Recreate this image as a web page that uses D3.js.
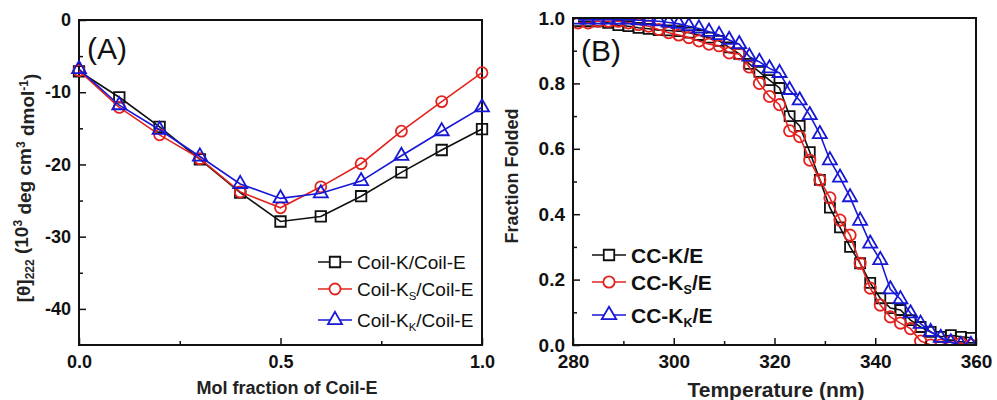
<!DOCTYPE html>
<html>
<head>
<meta charset="utf-8">
<script src="https://cdn.jsdelivr.net/npm/d3@7"></script>
<style>
  body { margin: 0; background: #fff; }
  svg { font-family: "Liberation Sans", Arial, sans-serif; }
  .tick text { font-weight: bold; font-size: 18px; fill: #111; }
</style>
</head>
<body>
<svg id="chart" width="997" height="400"></svg>
<script>
// panel A: CD signal vs mol fraction
const molFraction = [0, 0.1, 0.2, 0.3, 0.4, 0.5, 0.6, 0.7, 0.8, 0.9, 1.0];
const coilK = [-7.1, -10.7, -14.8, -19.3, -23.9, -27.9, -27.2, -24.4, -21.1, -18.0, -15.1];
const coilKs = [-7.0, -12.1, -15.9, -19.2, -23.8, -26.0, -23.1, -19.9, -15.4, -11.3, -7.3];
const coilKk = [-6.8, -11.8, -15.2, -18.9, -22.7, -24.7, -24.0, -22.3, -18.8, -15.4, -12.1];

// panel B: thermal unfolding
const temperature = [281, 283, 285, 287, 289, 291, 293, 295, 297, 299, 301, 303, 305, 307, 309, 311, 313, 315, 317, 319,
  321, 323, 325, 327, 329, 331, 333, 335, 337, 339, 341, 343, 345, 347, 349, 351, 353, 355, 357, 359];
const ccK = [0.99, 0.99, 0.99, 0.985, 0.978, 0.975, 0.97, 0.967, 0.963, 0.962, 0.96, 0.955, 0.948, 0.94, 0.93, 0.91, 0.89, 0.86, 0.835, 0.81,
  0.786, 0.70, 0.67, 0.59, 0.505, 0.42, 0.36, 0.30, 0.25, 0.19, 0.143, 0.113, 0.107, 0.076, 0.055, 0.04, 0.025, 0.03, 0.025, 0.022];
const ccKs = [0.985, 0.985, 0.99, 0.99, 0.99, 0.985, 0.98, 0.975, 0.965, 0.955, 0.948, 0.94, 0.93, 0.92, 0.915, 0.893, 0.89, 0.85, 0.80, 0.76,
  0.735, 0.655, 0.637, 0.565, 0.505, 0.45, 0.382, 0.336, 0.25, 0.174, 0.122, 0.086, 0.067, 0.05, 0.012, 0.0, 0.0, 0.01, 0.005, 0.0];
const ccKk = [0.995, 0.995, 0.995, 0.995, 0.995, 0.995, 0.993, 0.992, 0.99, 0.986, 0.982, 0.975, 0.968, 0.958, 0.948, 0.933, 0.92, 0.882, 0.866, 0.846,
  0.832, 0.78, 0.748, 0.703, 0.645, 0.565, 0.512, 0.452, 0.38, 0.31, 0.26, 0.17, 0.14, 0.097, 0.065, 0.04, 0.022, 0.008, 0.0, 0.0];

const xTicksA = [0, 0.5, 1.0];
const yTicksA = [0, -10, -20, -30, -40];
const xTicksB = [280, 300, 320, 340, 360];
const yTicksB = [0, 0.2, 0.4, 0.6, 0.8, 1.0];

const black = "#111111", red = "#e3231f", blue = "#1717d6";

const svg = d3.select("#chart");

function draw_frame(g, x, y, xTicks, yTicks, xMinor, yMinor, xFmt, yFmt) {
  const [x0, x1] = x.range();
  const [y0, y1] = y.range();

  g.append("g")
    .attr("transform", `translate(0,${y0})`)
    .call(d3.axisTop(x).tickValues(xMinor).tickSize(4).tickFormat(""))
    .call((g) => g.select(".domain").remove());
  const xa = g.append("g")
    .attr("transform", `translate(0,${y0})`)
    .call(d3.axisTop(x).tickValues(xTicks).tickSize(7).tickFormat(xFmt))
    .call((g) => g.select(".domain").remove());
  xa.selectAll(".tick text").attr("y", 10).attr("dy", "0.71em");

  g.append("g")
    .attr("transform", `translate(${x0},0)`)
    .call(d3.axisRight(y).tickValues(yMinor).tickSize(4).tickFormat(""))
    .call((g) => g.select(".domain").remove());
  const ya = g.append("g")
    .attr("transform", `translate(${x0},0)`)
    .call(d3.axisRight(y).tickValues(yTicks).tickSize(7).tickFormat(yFmt))
    .call((g) => g.select(".domain").remove());
  ya.selectAll(".tick text").attr("x", -8).attr("text-anchor", "end");

  g.selectAll(".tick line").attr("stroke", "#111").attr("stroke-width", 1.5);

  g.append("rect")
    .attr("x", x0).attr("y", y1)
    .attr("width", x1 - x0).attr("height", y0 - y1)
    .attr("fill", "none").attr("stroke", "#111").attr("stroke-width", 2);
}

function draw_series(g, x, y, xs, ys, color, symbol, size) {
  const pts = xs.map((d, i) => [d, ys[i]]);
  g.append("path")
    .datum(pts)
    .attr("fill", "none")
    .attr("stroke", color)
    .attr("stroke-width", 1.6)
    .attr("d", d3.line().x((d) => x(d[0])).y((d) => y(d[1])));
  g.selectAll(null)
    .data(pts)
    .enter()
    .append("path")
    .attr("transform", (d) => `translate(${x(d[0])},${y(d[1])})`)
    .attr("d", d3.symbol().type(symbol).size(size))
    .attr("fill", "none")
    .attr("stroke", color)
    .attr("stroke-width", 1.8);
}

function draw_legend(g, x0, rows, fontSize, bold) {
  rows.forEach((r) => {
    g.append("line")
      .attr("x1", x0).attr("x2", x0 + 34)
      .attr("y1", r.y).attr("y2", r.y)
      .attr("stroke", r.color).attr("stroke-width", 1.6);
    g.append("path")
      .attr("transform", `translate(${x0 + 17},${r.y})`)
      .attr("d", d3.symbol().type(r.symbol).size(r.size))
      .attr("fill", "#fff").attr("stroke", r.color).attr("stroke-width", 1.8);
    const t = g.append("text")
      .attr("x", x0 + 39).attr("y", r.y).attr("dy", "0.36em")
      .style("font-size", fontSize + "px")
      .style("font-weight", bold ? "bold" : "normal")
      .attr("fill", "#111");
    r.parts.forEach((p) => {
      const s = t.append("tspan").text(p.text);
      if (p.sub) {
        s.attr("dy", "0.35em").style("font-size", fontSize * 0.6 + "px");
      } else if (p.after) {
        s.attr("dy", "-0.21em");
      }
    });
  });
}

// ---------- panel A ----------
const gA = svg.append("g");
const xA = d3.scaleLinear().domain([0, 1]).range([79, 482]);
const yA = d3.scaleLinear().domain([-45, 0]).range([345, 20]);

draw_frame(gA, xA, yA, xTicksA, yTicksA, [0.25, 0.75], [-5, -15, -25, -35],
  d3.format(".1f"), (d) => d3.format("d")(d).replace("−", "-"));

draw_series(gA, xA, yA, molFraction, coilK, black, d3.symbolSquare, 110);
draw_series(gA, xA, yA, molFraction, coilKs, red, d3.symbolCircle, 95);
draw_series(gA, xA, yA, molFraction, coilKk, blue, d3.symbolTriangle, 85);

gA.append("text").attr("x", 87).attr("y", 59)
  .style("font-size", "30px").attr("fill", "#111").text("(A)");

draw_legend(gA, 318, [
  { y: 262, color: black, symbol: d3.symbolSquare, size: 110, parts: [{ text: "Coil-K/Coil-E" }] },
  { y: 289, color: red, symbol: d3.symbolCircle, size: 95,
    parts: [{ text: "Coil-K" }, { text: "S", sub: true }, { text: "/Coil-E", after: true }] },
  { y: 320, color: blue, symbol: d3.symbolTriangle, size: 85,
    parts: [{ text: "Coil-K" }, { text: "K", sub: true }, { text: "/Coil-E", after: true }] },
], 19, false);

gA.append("text")
  .attr("x", 287).attr("y", 394)
  .attr("text-anchor", "middle")
  .style("font-size", "18px").style("font-weight", "bold").attr("fill", "#222")
  .text("Mol fraction of Coil-E");

const ylabA = gA.append("text")
  .attr("transform", "translate(30,188) rotate(-90)")
  .attr("text-anchor", "middle")
  .style("font-size", "19px").style("font-weight", "bold").attr("fill", "#222");
ylabA.append("tspan").text("[θ]");
ylabA.append("tspan").text("222").attr("dy", "0.35em").style("font-size", "12px");
ylabA.append("tspan").text(" (10").attr("dy", "-0.35em");
ylabA.append("tspan").text("3").attr("dy", "-0.45em").style("font-size", "12px");
ylabA.append("tspan").text(" deg cm").attr("dy", "0.45em");
ylabA.append("tspan").text("3").attr("dy", "-0.45em").style("font-size", "12px");
ylabA.append("tspan").text(" dmol").attr("dy", "0.45em");
ylabA.append("tspan").text("-1").attr("dy", "-0.45em").style("font-size", "12px");
ylabA.append("tspan").text(")").attr("dy", "0.45em");

// ---------- panel B ----------
const gB = svg.append("g");
const xB = d3.scaleLinear().domain([280, 360]).range([573, 976]);
const yB = d3.scaleLinear().domain([0, 1]).range([345, 18]);

svg.append("clipPath").attr("id", "clipB")
  .append("rect").attr("x", 573).attr("y", 18).attr("width", 403).attr("height", 327);

const plotB = gB.append("g").attr("clip-path", "url(#clipB)");
draw_series(plotB, xB, yB, temperature, ccK, black, d3.symbolSquare, 100);
draw_series(plotB, xB, yB, temperature, ccKs, red, d3.symbolCircle, 100);
draw_series(plotB, xB, yB, temperature, ccKk, blue, d3.symbolTriangle, 85);

draw_frame(gB, xB, yB, xTicksB, yTicksB, [290, 310, 330, 350], [0.1, 0.3, 0.5, 0.7, 0.9],
  d3.format("d"), d3.format(".1f"));
gB.selectAll(".tick text").style("font-size", "19px");

gB.append("text").attr("x", 581).attr("y", 61)
  .style("font-size", "30px").attr("fill", "#111").text("(B)");

draw_legend(gB, 592, [
  { y: 255, color: black, symbol: d3.symbolSquare, size: 110, parts: [{ text: "CC-K/E" }] },
  { y: 282, color: red, symbol: d3.symbolCircle, size: 100,
    parts: [{ text: "CC-K" }, { text: "S", sub: true }, { text: "/E", after: true }] },
  { y: 315, color: blue, symbol: d3.symbolTriangle, size: 90,
    parts: [{ text: "CC-K" }, { text: "K", sub: true }, { text: "/E", after: true }] },
], 21, true);

gB.append("text")
  .attr("x", 776).attr("y", 397)
  .attr("text-anchor", "middle")
  .style("font-size", "21px").style("font-weight", "bold").attr("fill", "#222")
  .text("Temperature (nm)");

gB.append("text")
  .attr("transform", "translate(518,176) rotate(-90)")
  .attr("text-anchor", "middle")
  .style("font-size", "18px").style("font-weight", "bold").attr("fill", "#222")
  .text("Fraction Folded");
</script>
</body>
</html>
